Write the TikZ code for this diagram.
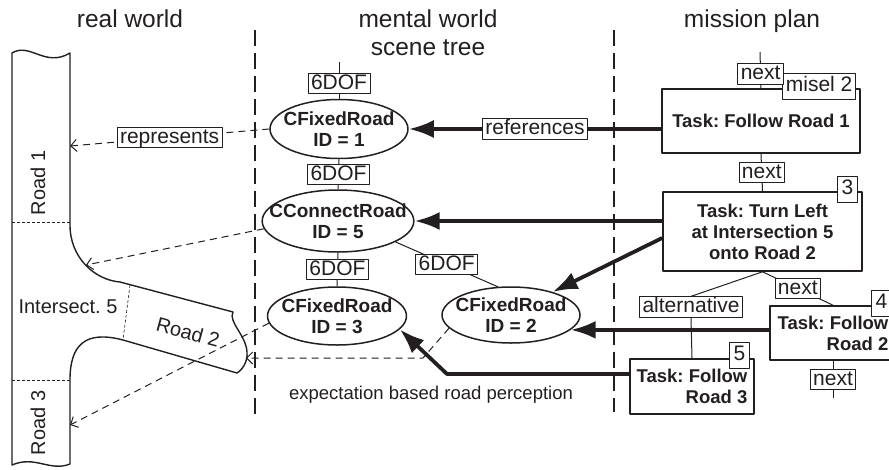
\documentclass[tikz,border=0pt]{standalone}
\usepackage{fontspec}
\setmainfont{Liberation Sans}
\usetikzlibrary{shapes.geometric,arrows.meta}
\definecolor{ink}{RGB}{35,31,32}
\frenchspacing

\begin{document}
\begin{tikzpicture}[x=1pt,y=-1pt,color=ink,line join=round,
  scenenode/.style={ellipse,draw,line width=1.5pt,fill=white,inner xsep=-15pt,inner ysep=0pt,
    align=center,font=\fontsize{19}{21}\selectfont\bfseries},
  taskbox/.style={rectangle,draw,line width=1.6pt,fill=white,font=\fontsize{18.5}{21}\selectfont\bfseries},
  tag/.style={rectangle,draw,solid,line width=.8pt,fill=white,inner xsep=3pt,inner ysep=1.5pt,
    text height=14.5pt,text depth=3pt,font=\fontsize{21}{22}\selectfont},
  cornertag/.style={tag,minimum width=20pt,minimum height=26pt,anchor=east},
  title/.style={font=\fontsize{24.5}{28}\selectfont,anchor=base},
  roadtext/.style={font=\fontsize{20}{22}\selectfont},
  link/.style={line width=1pt},
  divider/.style={line width=1.4pt,dash pattern=on 16pt off 7pt},
  refarrow/.style={line width=3.8pt,-{Latex[length=25pt,width=18pt]}},
  percept/.style={line width=1pt,dash pattern=on 7pt off 5pt,-{Straight Barb[length=6pt,width=12pt]}},
  roadedge/.style={line width=1.4pt},
  roadcut/.style={line width=.6pt,dash pattern=on 3pt off 2pt}]
\useasboundingbox (0,0) rectangle (889,469);

% column titles and separators
\node[title] (rw) at (130,27) {real world};
\node[title,align=center] (mw) at (428,55) {mental world\\scene tree};
\node[title] (mp) at (752,27) {mission plan};
\draw[divider] (255,30) -- (255,415);
\draw[divider] (614,30) -- (614,412);

% the road network
\draw[roadedge] (12,53) .. controls (30,42) and (45,68) .. (70,53)
  -- (70,225) .. controls (70,258) and (95,280) .. (120,282)
  -- (233,312) .. controls (228,322) and (246,335) .. (247,352)
  .. controls (248,362) and (242,370) .. (237,373)
  -- (123,340) .. controls (85,330) and (70,345) .. (70,380)
  -- (70,464) .. controls (50,472) and (35,455) .. (12,465) -- cycle;
\draw[roadcut] (12,222) -- (70,222);
\draw[roadcut] (12,380) -- (70,380);
\draw[roadcut] (130,285) -- (123,340);
\node[roadtext,rotate=90] (l1) at (38,183) {Road 1};
\node[roadtext] (l5) at (68,307) {Intersect. 5};
\node[roadtext,rotate=-15] (l2) at (188,332) {Road 2};
\node[roadtext,rotate=90] (l3) at (38,423) {Road 3};
\coordinate (r1) at (70,146);
\coordinate (ix5) at (86,265);
\coordinate (r2) at (246,358);
\coordinate (r3) at (70,425);

% scene tree
\node[scenenode,minimum width=138pt,minimum height=59pt] (fr1) at (339,129) {CFixedRoad\\ID = 1};
\node[scenenode,minimum width=150pt,minimum height=62pt] (cr5) at (338,221) {CConnectRoad\\ID = 5};
\node[scenenode,minimum width=139pt,minimum height=58pt] (fr3) at (337,316) {CFixedRoad\\ID = 3};
\node[scenenode,minimum width=138pt,minimum height=56pt] (fr2) at (511,315) {CFixedRoad\\ID = 2};
\coordinate (top0) at (339,62);
\draw[link] (top0) -- node[tag,pos=.58] (d1) {6DOF} (fr1.north);
\draw[link] (fr1.south) -- node[tag] (d2) {6DOF} (cr5.north);
\draw[link] (cr5.south) -- node[tag] (d3) {6DOF} (fr3.north);
\draw[link] (cr5.-20) -- node[tag] (d4) {6DOF} (fr2.115);
\node[roadtext,font=\fontsize{18.5}{21}\selectfont] (exp) at (431,395) {expectation based road perception};

% mission plan
\node[taskbox,minimum width=198pt,minimum height=64pt] (t1) at (761,121) {Task: Follow Road 1};
\node[taskbox,minimum width=199pt,minimum height=79pt,align=center] (t2) at (762.5,231.5)
  {Task: Turn Left\\at Intersection 5\\onto Road 2};
\node[taskbox,minimum width=126pt,minimum height=54pt,align=right] (t4) at (833,333)
  {Task: Follow\\Road 2};
\node[taskbox,minimum width=124pt,minimum height=55pt,align=right] (t5) at (692,386.5)
  {Task: Follow\\Road 3};
\node[cornertag] (m1) at ([xshift=-5pt,yshift=2pt]t1.north east) {misel 2};
\node[cornertag] (m2) at ([xshift=-5pt,yshift=2pt]t2.north east) {3};
\node[cornertag] (m4) at ([xshift=-5pt,yshift=2pt]t4.north east) {4};
\node[cornertag] (m5) at ([xshift=-5pt,yshift=3pt]t5.north east) {5};
\coordinate (top1) at (760,52);
\coordinate (bot4) at (833,398);
\draw[link] (top1) -- node[tag,pos=.6] (n1) {next} (t1.north);
\draw[link] (t1.south) -- node[tag] (n2) {next} (t2.north);
\draw[link] (t2.south) -- node[tag] (n3) {next} (t4.north);
\draw[link] (t4.south) -- node[tag] (n4) {next} (bot4);
\node[tag] (alt) at (691,307) {alternative};
\draw[link] (t2.south) -- (alt.north);
\draw[link] (alt.south) -- (t5.north);

% references from tasks to scene nodes
\coordinate (kink3) at (447,374);
\draw[refarrow] (t1.west |- fr1.east) -- node[tag] (refs) {references} (fr1.east);
\draw[refarrow] (t2.west |- cr5.east) -- (cr5.east);
\draw[refarrow] ([yshift=-6.5pt]t2.west) -- (fr2.29);
\draw[refarrow] (t4.west |- fr2.-14.5) -- (fr2.-14.5);
\draw[refarrow] (t5.west |- kink3) -- (kink3) -- (fr3.-12);

% scene nodes to the real roads
\coordinate (kink2) at (423,358);
\draw[percept] (fr1.west) -- node[tag] (rep) {represents} (r1);
\draw[percept] (cr5.186) -- (ix5);
\draw[percept] (fr3.186) -- (r3);
\draw[percept] (fr2.192) -- (kink2) -- (r2);
\end{tikzpicture}
\end{document}
